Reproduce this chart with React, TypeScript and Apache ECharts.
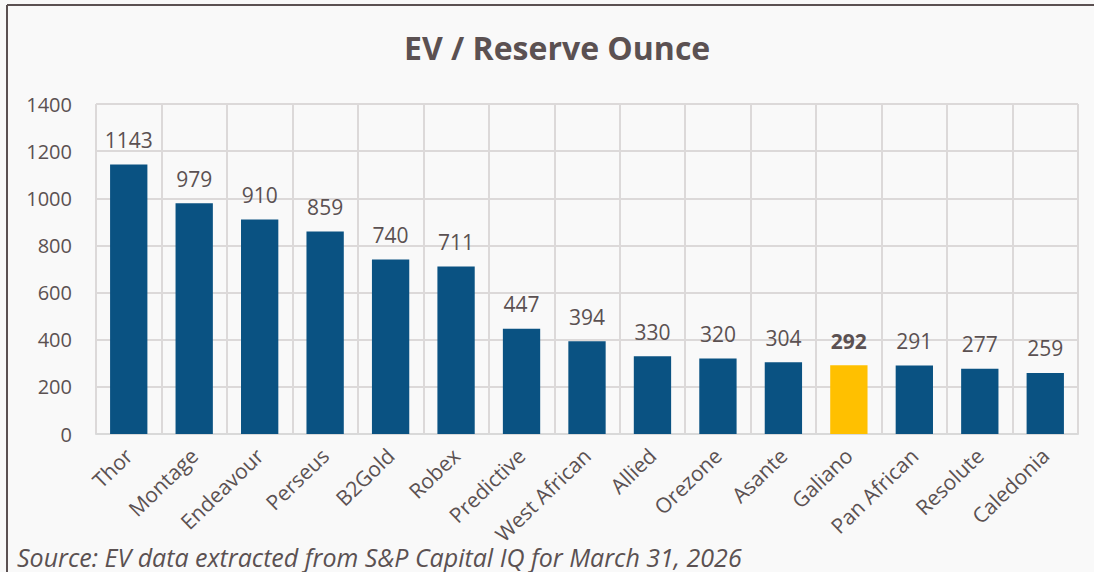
import React, { useEffect, useRef } from "react";
import * as echarts from "echarts";

const categories = ["Thor", "Montage", "Endeavour", "Perseus", "B2Gold", "Robex", "Predictive", "West African", "Allied", "Orezone", "Asante", "Galiano", "Pan African", "Resolute", "Caledonia"];
const values = [1143, 979, 910, 859, 740, 711, 447, 394, 330, 320, 304, 292, 291, 277, 259];
const highlight = "Galiano";
const yTicks = { min: 0, max: 1400, interval: 200 };

const TEXT = "#5b5152";
const FONT = "'Open Sans', 'Noto Sans', sans-serif";

export default function App() {
  const ref = useRef<HTMLDivElement>(null);
  useEffect(() => {
    document.body.style.margin = "0";
    const chart = echarts.init(ref.current!, null, { renderer: "svg" });
    chart.setOption({
      animation: false,
      backgroundColor: "#f9f9f9",
      textStyle: { fontFamily: FONT },
      title: {
        text: "EV / Reserve Ounce",
        left: 399,
        top: 26,
        textStyle: { fontFamily: FONT, fontSize: 32, fontWeight: "bold", color: TEXT },
      },
      grid: { left: 96, right: 16, top: 104, bottom: 138 },
      xAxis: {
        type: "category",
        data: categories,
        axisLine: { lineStyle: { color: "#d9d9d9", width: 2 } },
        axisTick: { show: false },
        splitLine: { show: true, lineStyle: { color: "#dcd9d9", width: 2 } },
        axisLabel: { rotate: 44, color: TEXT, fontSize: 21, fontFamily: FONT, margin: 18, interval: 0 },
      },
      yAxis: {
        type: "value",
        min: yTicks.min,
        max: yTicks.max,
        interval: yTicks.interval,
        axisLine: { show: false },
        axisTick: { show: false },
        splitLine: { lineStyle: { color: "#dcd9d9", width: 2 } },
        axisLabel: { color: TEXT, fontSize: 20, fontFamily: FONT, margin: 24, formatter: (v: number) => String(v) },
      },
      series: [
        {
          type: "bar",
          barCategoryGap: "43%",
          data: values.map((v, i) => ({
            value: v,
            itemStyle: { color: categories[i] === highlight ? "#ffc000" : "#0a5282" },
            label: { fontWeight: categories[i] === highlight ? "bold" : "normal" },
          })),
          label: { show: true, position: "top", distance: 14, color: TEXT, fontSize: 21, fontFamily: FONT },
        },
      ],
      graphic: [
        { type: "line", shape: { x1: 7, y1: 5, x2: 1094, y2: 5 }, style: { stroke: "#5b5152", lineWidth: 2 } },
        { type: "line", shape: { x1: 7, y1: 5, x2: 7, y2: 572 }, style: { stroke: "#5b5152", lineWidth: 2 } },
        {
          type: "text",
          left: 17,
          top: 544,
          style: { text: "Source: EV data extracted from S&P Capital IQ for March 31, 2026", fill: TEXT, fontSize: 25, fontStyle: "italic", fontFamily: FONT },
        },
      ],
    });
    return () => chart.dispose();
  }, []);
  return <div ref={ref} style={{ width: 1094, height: 572 }} />;
}
